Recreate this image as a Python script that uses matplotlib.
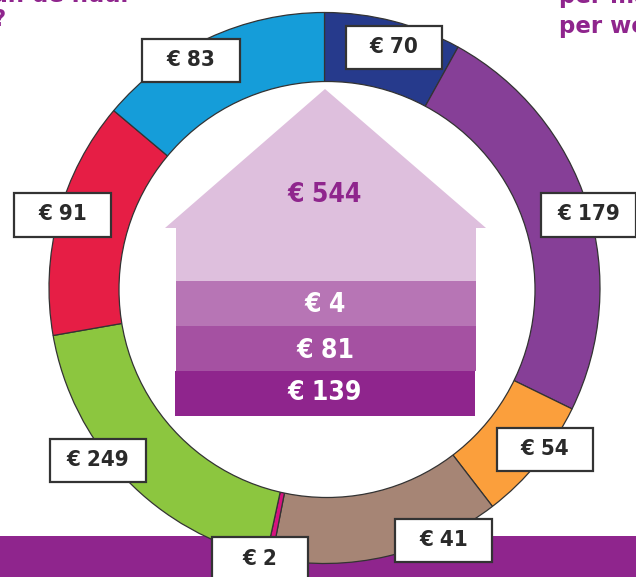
import matplotlib
matplotlib.use("Agg")
import matplotlib.pyplot as plt
from matplotlib.patches import Rectangle, Polygon, Circle

W, H = 636, 577
ring_labels = ["€ 70", "€ 179", "€ 54", "€ 41", "€ 2", "€ 249", "€ 91", "€ 83"]
ring_degrees = [29, 87, 26.4, 48.6, 1.2, 67.8, 50, 49.9]
ring_colors = ["#263A8C", "#863F97", "#FB9F3C", "#A68575", "#D6127F", "#8CC63F", "#E61E45", "#159DD9"]
label_boxes = [(346, 26, 96, 43), (541, 193, 95, 44), (497, 428, 96, 43), (395, 519, 97, 43),
               (212, 537, 96, 45), (50, 439, 96, 43), (14, 193, 97, 44), (142, 39, 98, 43)]
house_labels = ["€ 139", "€ 81", "€ 4", "€ 544"]
house_colors = ["#8F258D", "#A551A2", "#B775B5", "#DEBFDD"]
house_bands = [(175, 371, 300, 45), (176, 326, 300, 45), (176, 281, 300, 45), (176, 228, 300, 53)]
house_text_y = [393, 351.5, 304.5, 194.5]

plt.rcParams["font.family"] = ["DejaVu Sans"]
fig = plt.figure(figsize=(W / 100, H / 100), dpi=100)
ax = fig.add_axes([0, 0, 1, 1])
ax.set_xlim(0, W)
ax.set_ylim(H, 0)
ax.axis("off")

# bottom band
ax.add_patch(Rectangle((0, 536), W, 41, fc="#8F258D", ec="none", zorder=1))

# ring: full wedges in an axes whose y axis points up, with the hole drawn on top
cx, cy, R = 324.5, 288, 275.5
pax = fig.add_axes([(cx - R) / W, 1 - (cy + R) / H, 2 * R / W, 2 * R / H], zorder=1)
pax.patch.set_alpha(0)
pax.pie(ring_degrees, colors=ring_colors, startangle=90, counterclock=False, radius=1,
        wedgeprops=dict(edgecolor="#333333", linewidth=0.9))
pax.set_xlim(-1, 1)
pax.set_ylim(-1, 1)
pax.set_aspect("equal")

ov = fig.add_axes([0, 0, 1, 1], zorder=2)
ov.set_xlim(0, W)
ov.set_ylim(H, 0)
ov.axis("off")
ov.patch.set_alpha(0)

# hole of the ring
ov.add_patch(Circle((327, 289.5), 208, fc="white", ec="#333333", lw=0.9))

# house
for (x, y, w, h), c in zip(house_bands, house_colors):
    ov.add_patch(Rectangle((x, y), w, h, fc=c, ec="none"))
ov.add_patch(Polygon([(165, 228), (325, 89), (486, 228)], closed=True, fc=house_colors[-1], ec="none"))
for lab, ty, col in zip(house_labels, house_text_y, ["white", "white", "white", "#8F258D"]):
    ov.text(325, ty, lab, color=col, fontsize=19, fontweight="bold", ha="center", va="center", stretch="condensed")

# ring labels
for lab, (x, y, w, h) in zip(ring_labels, label_boxes):
    ov.add_patch(Rectangle((x, y), w, h, fc="white", ec="#333333", lw=1.6))
    ov.text(x + w / 2, y + h / 2 - 0.5, lab, color="#2A2A2A", fontsize=16, fontweight="bold",
            ha="center", va="center", stretch="condensed")

# titles, cut off by the picture's edges as in the reference
title_color = "#8F258D"
ov.text(559, 27, "per week", color=title_color, fontsize=16.5, fontweight="bold", va="center", clip_on=True)
ov.text(559, -3, "per maand", color=title_color, fontsize=16.5, fontweight="bold", va="center", clip_on=True)
ov.text(132, -5, "aan de huur", color=title_color, fontsize=16.5, fontweight="bold", va="center", ha="right", clip_on=True)
ov.text(-8, 20, "?", color=title_color, fontsize=16.5, fontweight="bold", va="center", clip_on=True)

fig.savefig("out.png", dpi=100)
